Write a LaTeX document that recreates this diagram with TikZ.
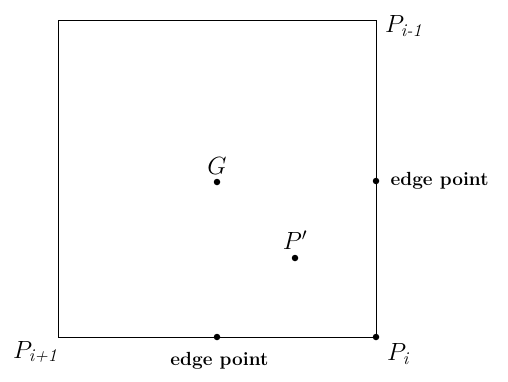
\documentclass[tikz,border=0pt]{standalone}
\usetikzlibrary{positioning}

\newcommand{\subi}[1]{\mbox{\fontsize{18}{20}\selectfont\itshape #1}}

\begin{document}
\begin{tikzpicture}[x=1pt,y=-1pt,
  dot/.style={circle,fill=black,inner sep=0pt,minimum size=6.5pt},
  plabel/.style={font=\fontsize{23}{26}\selectfont,inner sep=1pt},
  edgelabel/.style={font=\fontsize{19}{22}\selectfont\bfseries,inner sep=1pt}
]
\useasboundingbox (0,0) rectangle (508,381);
% corners of the square
\coordinate (tl) at (58,20);
\coordinate (tr) at (376,20);
\coordinate (bl) at (58,337);
\node[dot] (pi) at (376,337) {};
\draw[line width=1pt] (tl) -- (tr) -- (pi.center) -- (bl) -- cycle;
% points
\node[dot] (g) at (217,182) {};
\node[dot] (pp) at (295,258) {};
\node[dot] (er) at (376,181) {};
\node[dot] (eb) at (217,337) {};
% labels
\node[plabel,above=3pt of g] (glabel) {$G$};
\node[plabel,above=4pt of pp] (pplabel) {$P'$};
\node[plabel,anchor=west] (pim) at (384,26) {$P_{\subi{i-1}}$};
\node[plabel,anchor=west] (pip) at (12,352) {$P_{\subi{i+1}}$};
\node[plabel,anchor=west] (pilabel) at (386,354) {$P_{\subi{i}}$};
\node[edgelabel,right=10pt of er] (erlabel) {edge point};
\node[edgelabel,below=12pt of eb.south east,anchor=north] (eblabel) {edge point};
\end{tikzpicture}
\end{document}
